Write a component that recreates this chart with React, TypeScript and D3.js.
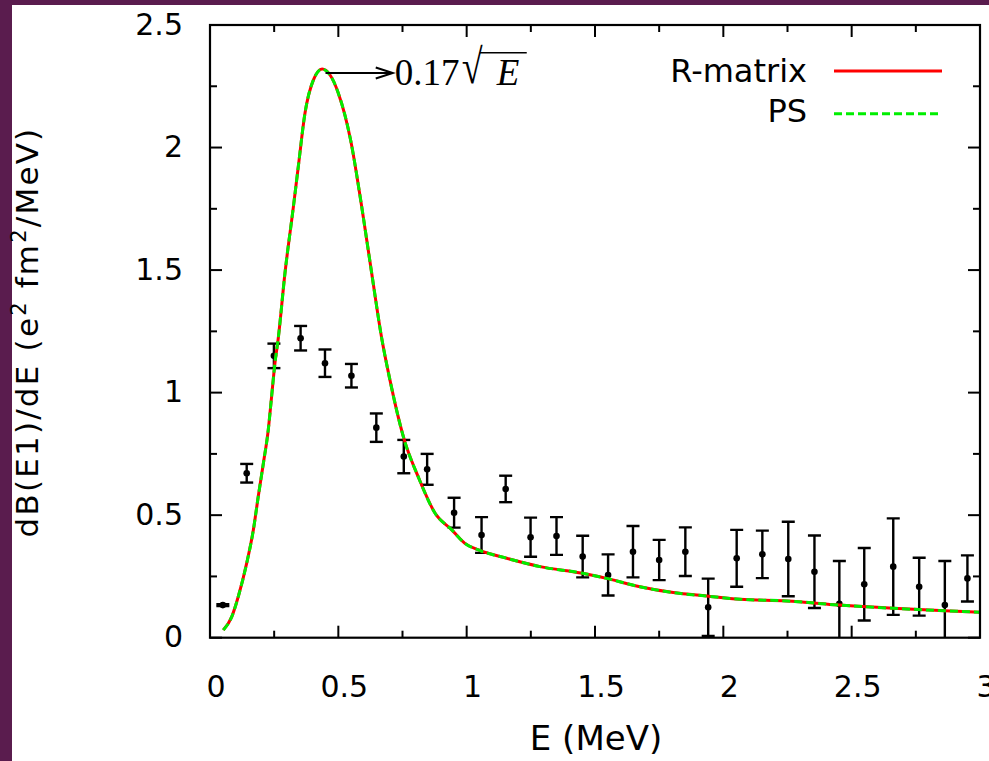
import React from "react";
import * as d3 from "d3";

// Theory curve (R-matrix and PS coincide)
const curveE = [0.052, 0.085, 0.11, 0.143, 0.169, 0.188, 0.208, 0.227, 0.24, 0.253, 0.266, 0.292, 0.325, 0.344, 0.37, 0.403, 0.437, 0.467, 0.5, 0.548, 0.591, 0.63, 0.669, 0.701, 0.757, 0.811, 0.877, 0.942, 0.993, 1.046, 1.156, 1.286, 1.452, 1.545, 1.675, 1.805, 1.935, 2.065, 2.247, 2.452, 2.662, 2.863, 3.0];
const rmatrixB = [0.031, 0.086, 0.167, 0.304, 0.44, 0.576, 0.712, 0.848, 0.984, 1.12, 1.222, 1.487, 1.759, 1.922, 2.14, 2.276, 2.32, 2.297, 2.222, 2.03, 1.759, 1.487, 1.222, 1.052, 0.807, 0.657, 0.508, 0.44, 0.385, 0.358, 0.324, 0.29, 0.263, 0.242, 0.208, 0.184, 0.17, 0.157, 0.15, 0.133, 0.12, 0.11, 0.104];
const psB = [0.031, 0.086, 0.167, 0.304, 0.44, 0.576, 0.712, 0.848, 0.984, 1.12, 1.222, 1.487, 1.759, 1.922, 2.14, 2.276, 2.32, 2.297, 2.222, 2.03, 1.759, 1.487, 1.222, 1.052, 0.807, 0.657, 0.508, 0.44, 0.385, 0.358, 0.324, 0.29, 0.263, 0.242, 0.208, 0.184, 0.17, 0.157, 0.15, 0.133, 0.12, 0.11, 0.104];

// Experimental points
const expE = [0.05, 0.143, 0.249, 0.353, 0.448, 0.551, 0.648, 0.755, 0.846, 0.951, 1.058, 1.152, 1.249, 1.35, 1.452, 1.551, 1.648, 1.75, 1.852, 1.941, 2.052, 2.152, 2.253, 2.355, 2.452, 2.549, 2.662, 2.763, 2.863, 2.951];
const expB = [0.133, 0.671, 1.15, 1.222, 1.12, 1.069, 0.857, 0.739, 0.687, 0.51, 0.419, 0.607, 0.41, 0.415, 0.331, 0.256, 0.351, 0.317, 0.351, 0.124, 0.324, 0.34, 0.321, 0.269, 0.138, 0.218, 0.29, 0.208, 0.133, 0.242];
const expErr = [0.004, 0.038, 0.05, 0.05, 0.056, 0.048, 0.058, 0.068, 0.063, 0.061, 0.073, 0.054, 0.08, 0.077, 0.085, 0.084, 0.105, 0.082, 0.099, 0.117, 0.116, 0.097, 0.152, 0.148, 0.175, 0.148, 0.197, 0.118, 0.18, 0.094];

const xMajor = [0, 0.5, 1, 1.5, 2, 2.5, 3];
const xMinor = [0.25, 0.75, 1.25, 1.75, 2.25, 2.75];
const yMajor = [0, 0.5, 1, 1.5, 2, 2.5];
const yMinor = [0.25, 0.75, 1.25, 1.75, 2.25];

const legendLabels = ["R-matrix", "PS"];
const annotation = { e0: 0.45, e1: 0.712, b: 2.304 };

const W = 989;
const H = 761;
const L = 210, R = 980, T = 25, B = 637.7;

const sans = "'DejaVu Sans', sans-serif";
const serif = "'Liberation Serif', 'DejaVu Serif', serif";

export default function App() {
  const x = d3.scaleLinear().domain([0, 3]).range([L, R]);
  const y = d3.scaleLinear().domain([0, 2.5]).range([B, T]);

  const line = d3
    .line<[number, number]>()
    .x((d) => x(d[0]))
    .y((d) => y(d[1]))
    .curve(d3.curveMonotoneX);

  const rPath = line(curveE.map((e, i) => [e, rmatrixB[i]]) as [number, number][]) || "";
  const psPath = line(curveE.map((e, i) => [e, psB[i]]) as [number, number][]) || "";

  const major = 12;
  const minor = 7;
  const cap = 6.5;

  const ax0 = x(annotation.e0);
  const ax1 = x(annotation.e1);
  const ay = y(annotation.b);

  return (
    <svg
      width={W}
      height={H}
      style={{ position: "absolute", left: 0, top: 0, display: "block" }}
    >
      <rect x={0} y={0} width={W} height={H} fill="#5a1c4e" />
      <rect x={12} y={5} width={W - 12} height={H - 5} fill="#ffffff" />

      <defs>
        <clipPath id="plotClip">
          <rect x={L} y={T} width={R - L} height={B - T} />
        </clipPath>
      </defs>

      {/* ticks on all four sides, pointing inward */}
      <g stroke="#000" strokeWidth={2}>
        {xMajor.map((v) => (
          <g key={"xM" + v}>
            <line x1={x(v)} x2={x(v)} y1={B} y2={B - major} />
            <line x1={x(v)} x2={x(v)} y1={T} y2={T + major} />
          </g>
        ))}
        {xMinor.map((v) => (
          <g key={"xm" + v}>
            <line x1={x(v)} x2={x(v)} y1={B} y2={B - minor} />
            <line x1={x(v)} x2={x(v)} y1={T} y2={T + minor} />
          </g>
        ))}
        {yMajor.map((v) => (
          <g key={"yM" + v}>
            <line x1={L} x2={L + major} y1={y(v)} y2={y(v)} />
            <line x1={R} x2={R - major} y1={y(v)} y2={y(v)} />
          </g>
        ))}
        {yMinor.map((v) => (
          <g key={"ym" + v}>
            <line x1={L} x2={L + minor} y1={y(v)} y2={y(v)} />
            <line x1={R} x2={R - minor} y1={y(v)} y2={y(v)} />
          </g>
        ))}
      </g>

      {/* tick labels */}
      <g fontFamily={sans} fontSize={30} fill="#000">
        {yMajor.map((v) => (
          <text key={"yl" + v} x={183} y={y(v) - 1} textAnchor="end" dominantBaseline="central">
            {d3.format("")(v)}
          </text>
        ))}
        {xMajor.map((v) => (
          <text key={"xl" + v} x={x(v) + 6} y={697} textAnchor="middle">
            {d3.format("")(v)}
          </text>
        ))}
      </g>

      {/* axis titles */}
      <text x={596} y={750} textAnchor="middle" fontFamily={sans} fontSize={34} fill="#000">
        E (MeV)
      </text>
      <text
        transform="translate(38,332) rotate(-90)"
        textAnchor="middle"
        fontFamily={sans}
        fontSize={31}
        letterSpacing={2.2}
        fill="#000"
      >
        dB(E1)/dE (e
        <tspan dy={-12} fontSize={21}>2</tspan>
        <tspan dy={12}> fm</tspan>
        <tspan dy={-12} fontSize={21}>2</tspan>
        <tspan dy={12}>/MeV)</tspan>
      </text>

      {/* experimental data with error bars */}
      <g clipPath="url(#plotClip)" stroke="#000" strokeWidth={2.4} fill="#000">
        {expE.map((e, i) => {
          const cx = x(e);
          const yt = y(expB[i] + expErr[i]);
          const yb = y(Math.max(expB[i] - expErr[i], -0.1));
          return (
            <g key={"p" + i}>
              <line x1={cx} x2={cx} y1={yt} y2={yb} />
              <line x1={cx - cap} x2={cx + cap} y1={yt} y2={yt} />
              <line x1={cx - cap} x2={cx + cap} y1={yb} y2={yb} />
              <circle cx={cx} cy={y(expB[i])} r={3.3} stroke="none" />
            </g>
          );
        })}
      </g>

      {/* theory curves */}
      <g clipPath="url(#plotClip)" fill="none" strokeLinejoin="miter">
        <path d={rPath} stroke="#ff0000" strokeWidth={3} />
        <path d={psPath} stroke="#00ee00" strokeWidth={3} strokeDasharray="8,4" />
      </g>

      {/* frame */}
      <rect x={L} y={T} width={R - L} height={B - T} fill="none" stroke="#000" strokeWidth={2.2} />

      {/* legend */}
      <g fontFamily={sans} fontSize={32} fill="#000">
        <text x={807} y={82} textAnchor="end">{legendLabels[0]}</text>
        <text x={807} y={122} textAnchor="end">{legendLabels[1]}</text>
      </g>
      <line x1={834} x2={942} y1={71} y2={71} stroke="#ff0000" strokeWidth={3} />
      <line x1={834} x2={942} y1={113.7} y2={113.7} stroke="#00ee00" strokeWidth={3} strokeDasharray="8,4" />

      {/* peak annotation */}
      <g stroke="#000" strokeWidth={2} fill="none">
        <line x1={ax0} x2={ax1} y1={ay} y2={ay} />
        <polyline points={`${ax1 - 17},${ay - 5.5} ${ax1},${ay} ${ax1 - 17},${ay + 5.5}`} />
      </g>
      <g fontFamily={serif} fontSize={37} fill="#000">
        <text x={ax1 + 2} y={ay + 12}>0.17</text>
        <text
          transform={`translate(${ax1 + 69},${ay + 9.5}) scale(1,1.28)`}
          fontSize={38}
        >
          √
        </text>
        <text x={ax1 + 104} y={ay + 12} fontStyle="italic">E</text>
      </g>
      <line x1={ax1 + 87} x2={ax1 + 134} y1={ay - 20.3} y2={ay - 20.3} stroke="#000" strokeWidth={1.6} />
    </svg>
  );
}
